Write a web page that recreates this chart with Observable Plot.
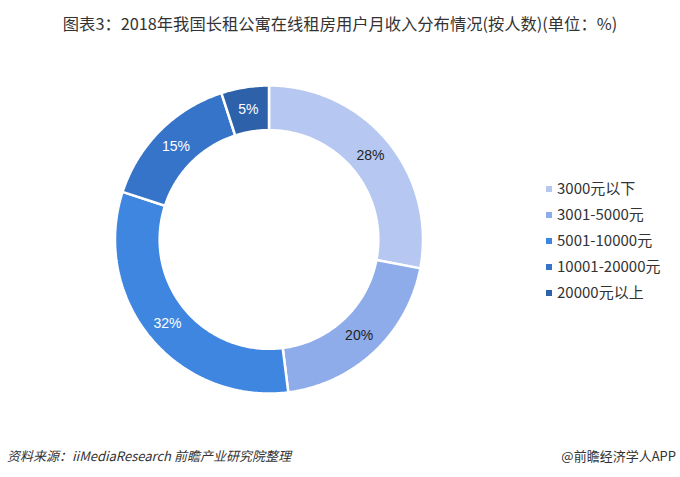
<!DOCTYPE html>
<html><head><meta charset="utf-8">
<script src="https://cdn.jsdelivr.net/npm/d3@7"></script>
<script src="https://cdn.jsdelivr.net/npm/@observablehq/plot@0.6"></script>
<style>
body{margin:0;background:#fff;font-family:"Noto Sans CJK SC","Noto Sans",sans-serif;}
#wrap{position:relative;width:680px;height:477px;overflow:hidden;background:#fff;}
#title{position:absolute;top:11px;left:0;width:680px;text-align:center;font-size:16.3px;color:#333;white-space:nowrap;}
#chart{position:absolute;left:0;top:40px;}
#legend{position:absolute;left:546px;top:175px;font-size:15px;color:#333;}
#legend .row{height:26px;line-height:26px;white-space:nowrap;}
#legend .sw{display:inline-block;width:6px;height:6px;margin-right:5px;vertical-align:middle;position:relative;top:-1px;}
#src{position:absolute;left:7px;top:446px;font-size:13px;color:#333;font-style:italic;white-space:nowrap;}
#brand{position:absolute;right:4px;top:446px;font-size:13px;color:#333;white-space:nowrap;}
</style></head>
<body>
<div id="wrap">
  <div id="title">图表3：2018年我国长租公寓在线租房用户月收入分布情况(按人数)(单位：%)</div>
  <div id="chart"></div>
  <div id="legend"></div>
  <div id="src">资料来源：iiMediaResearch 前瞻产业研究院整理</div>
  <div id="brand">@前瞻经济学人APP</div>
</div>
<script>
const categories = ["3000元以下","3001-5000元","5001-10000元","10001-20000元","20000元以上"];
const values = [28, 20, 32, 15, 5];
const labels = ["28%","20%","32%","15%","5%"];
const colors = ["#b6c8f1","#8eabea","#3e86e0","#3574c9","#2d61aa"];
const darkLabel = [true, true, false, false, false];

const rows = categories.map((c, i) => ({cat: c, value: values[i], label: labels[i], dark: darkLabel[i]}));
const arcs = d3.pie().sort(null).value(d => d.value)(rows);
const R0 = 0.71, R1 = 1;
const pts = [];
for (const a of arcs) {
  const n = Math.max(2, Math.ceil((a.endAngle - a.startAngle) * 80));
  for (let i = 0; i <= n; i++) {
    const t = a.startAngle + (a.endAngle - a.startAngle) * i / n;
    pts.push({cat: a.data.cat, x: R1 * Math.sin(t), y: R1 * Math.cos(t)});
  }
  for (let i = n; i >= 0; i--) {
    const t = a.startAngle + (a.endAngle - a.startAngle) * i / n;
    pts.push({cat: a.data.cat, x: R0 * Math.sin(t), y: R0 * Math.cos(t)});
  }
  pts.push({cat: a.data.cat, x: R1 * Math.sin(a.startAngle), y: R1 * Math.cos(a.startAngle)});
}
const lr = (R0 + R1) / 2;
const labelRows = arcs.map(a => {
  const m = (a.startAngle + a.endAngle) / 2;
  return {label: a.data.label, dark: a.data.dark, x: lr * Math.sin(m), y: lr * Math.cos(m)};
});

const chart = Plot.plot({
  width: 680, height: 400, margin: 0,
  x: {domain: [-1, 1], range: [114.5, 422.5], axis: null},
  y: {domain: [-1, 1], range: [353, 45], axis: null},
  color: {domain: categories, range: colors},
  style: {fontFamily: '"Liberation Sans", "Noto Sans", sans-serif', background: "transparent"},
  marks: [
    Plot.line(pts, {x: "x", y: "y", z: "cat", fill: "cat", stroke: "white", strokeWidth: 2.5, strokeLinejoin: "miter"}),
    Plot.text(labelRows.filter(d => d.dark), {x: "x", y: "y", text: "label", fill: "#222", fontSize: 14}),
    Plot.text(labelRows.filter(d => !d.dark), {x: "x", y: "y", text: "label", fill: "#fff", fontSize: 14})
  ]
});
document.getElementById("chart").appendChild(chart);

const legend = document.getElementById("legend");
categories.forEach((c, i) => {
  const row = document.createElement("div");
  row.className = "row";
  row.innerHTML = `<span class="sw" style="background:${colors[i]}"></span>${c}`;
  legend.appendChild(row);
});
</script>
</body></html>
